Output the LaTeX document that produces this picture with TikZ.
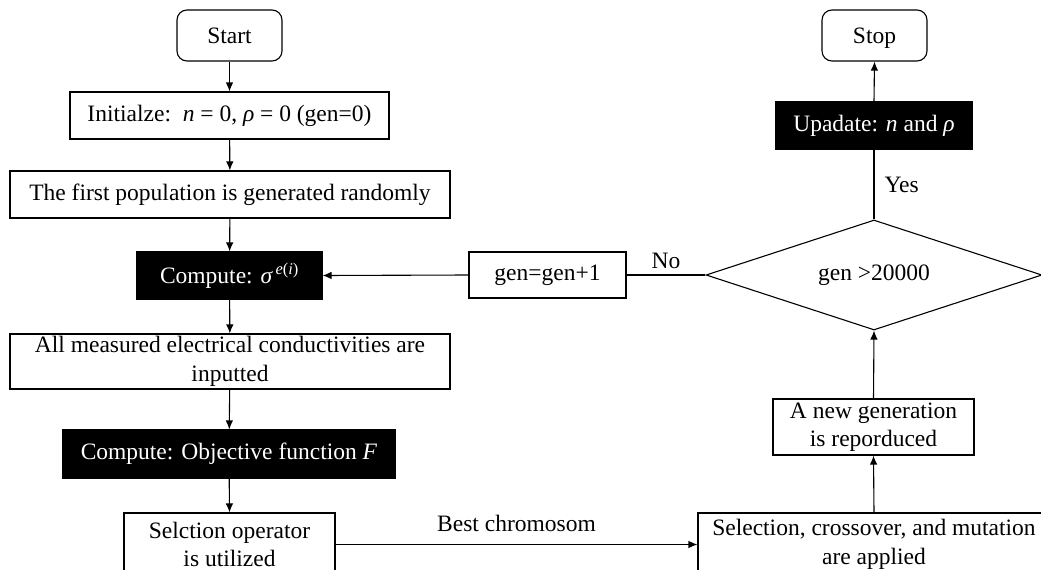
\documentclass[tikz,border=0pt]{standalone}
\usepackage{fontspec}
\setmainfont{Liberation Serif}
\usetikzlibrary{arrows.meta,shapes.geometric}
\begin{document}
\begin{tikzpicture}[x=1pt,y=-1pt,
  every node/.style={font=\fontsize{23.5}{28.5}\selectfont},
  box/.style={draw, line width=1.1pt, inner sep=0pt, align=center},
  term/.style={box, rounded corners=10pt, text height=15pt, text depth=0pt},
  dark/.style={box, fill=black, text=white},
  dec/.style={draw, line width=1.1pt, diamond, inner sep=0pt, aspect=3.05},
  conn/.style={line width=1.1pt},
  arr/.style={conn, -{Latex[length=9pt,width=7.5pt]}},
  lbl/.style={inner sep=0pt}
]
\clip (0,0) rectangle (1041,570);
% left column
\node[term, minimum width=105pt, minimum height=51pt] (start) at (229.5,35.5) {Start};
\node[box, minimum width=319pt, minimum height=47pt] (init) at (229.5,115.5) {Initialze:\ \ \textit{n} = 0, \textit{ρ} = 0 (gen=0)};
\node[box, minimum width=440pt, minimum height=47pt] (pop) at (230,194.5) {The first population is generated randomly};
\node[dark, minimum width=185pt, minimum height=47pt] (sig) at (229.5,275.5) {Compute: \textit{σ}\textsuperscript{\,\textit{e}(\textit{i})}};
\node[box, minimum width=440pt, minimum height=55pt] (meas) at (230,361.5) {All measured electrical conductivities are\\inputted};
\node[dark, minimum width=332pt, minimum height=48pt] (obj) at (229,454) {Compute: Objective function \textit{F}};
\node[box, minimum width=211pt, minimum height=63pt] (selop) at (229.5,544.5) {Selction operator\\is utilized};
% right column
\node[term, minimum width=105pt, minimum height=51pt] (stop) at (874.5,35.5) {Stop};
\node[dark, minimum width=196pt, minimum height=47pt] (upd) at (874,125.5) {Upadate: \textit{n} and \textit{ρ}};
\node[dec, minimum width=336pt, minimum height=110pt] (cond) at (874,275) {gen >20000};
\node[box, minimum width=157pt, minimum height=46pt] (inc) at (547.5,275) {gen=gen+1};
\node[box, minimum width=201pt, minimum height=56pt] (newgen) at (873.5,427) {A new generation\\is reporduced};
\node[box, minimum width=352pt, minimum height=63pt] (sxm) at (874,544.5) {Selection,\ crossover, and mutation\\are applied};
% connectors
\draw[arr] (start) -- (init);
\draw[arr] (init) -- (pop);
\draw[arr] (pop) -- (sig);
\draw[arr] (sig) -- (meas);
\draw[arr] (meas) -- (obj);
\draw[arr] (obj) -- (selop.north);
\draw[arr] (selop.east) -- node[lbl, above=12pt] (best) {Best chromosom} (sxm.west);
\draw[arr] (sxm.north) -- (newgen.south);
\draw[arr] (newgen.north) -- (cond.south);
\draw[conn] (cond.north) -- node[lbl, right=10pt] (yes) {Yes} (upd.south);
\draw[arr] (upd.north) -- (stop.south);
\draw[conn] (cond.west) -- node[lbl, above=6pt] (no) {No} (inc.east);
\draw[arr] (inc.west) -- (sig.east);
\end{tikzpicture}
\end{document}
